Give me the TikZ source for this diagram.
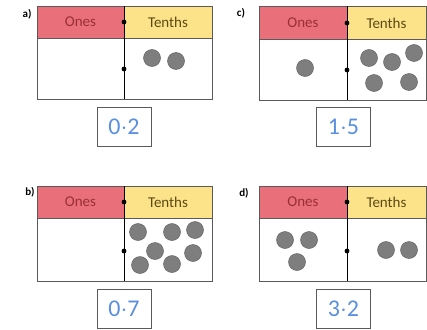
\documentclass[tikz,border=0pt]{standalone}
\usepackage{fontspec}
\setmainfont{Carlito}
\usepackage{xcolor}
\definecolor{onesred}{HTML}{E9707A}
\definecolor{tenthsyellow}{HTML}{FCE38A}
\definecolor{onestext}{HTML}{9A3036}
\definecolor{tenthstext}{HTML}{5C4A14}
\definecolor{counter}{HTML}{7E7E7E}
\definecolor{answerblue}{HTML}{5A8FE0}
\definecolor{frame}{HTML}{5A5A5A}

\begin{document}
\begin{tikzpicture}[x=1pt,y=-1pt,
  chart/.style={draw=frame, line width=0.9pt},
  head/.style={font=\fontsize{15}{16}\selectfont},
  tag/.style={font=\fontsize{11}{12}\selectfont\bfseries},
  answer/.style={draw=frame, line width=0.8pt, minimum width=54pt, minimum height=39pt,
    inner sep=0pt, text=answerblue, font=\fontsize{24}{25}\selectfont},
  counter/.style={fill=counter, draw=counter!80!black, line width=0.5pt}]

\useasboundingbox (0,0) rectangle (427,329);

% a)
\fill[onesred] (37,6) rectangle (124,38);
\fill[tenthsyellow] (124,6) rectangle (212,38);
\draw[chart] (37,6) rectangle (212,99);
\draw[chart] (37,38) -- (212,38);
\draw[line width=0.9pt] (124,6) -- (124,99);
\fill (124,22) circle (2.4) (124,69) circle (2.4);
\node[tag] (taga) at (27,14) {a)};
\node[head, text=onestext] (onesa) at (80.5,22) {Ones};
\node[head, text=tenthstext] (tenthsa) at (168,22) {Tenths};
\foreach \x/\y in {152/58,176/61} \draw[counter] (\x,\y) circle (8.5);
\node[answer] (ansa) at (124,127) {0$\cdot$2};

% c)
\fill[onesred] (259,6) rectangle (347,39);
\fill[tenthsyellow] (347,6) rectangle (426,39);
\draw[chart] (259,6) rectangle (426,100);
\draw[chart] (259,39) -- (426,39);
\draw[line width=0.9pt] (347,6) -- (347,100);
\fill (347,23) circle (2.4) (347,70) circle (2.4);
\node[tag] (tagc) at (241,13) {c)};
\node[head, text=onestext] (onesc) at (303,23) {Ones};
\node[head, text=tenthstext] (tenthsc) at (386.5,23) {Tenths};
\draw[counter] (305,68) circle (8.5);
\foreach \x/\y in {369/58,392/62,414/53,374/83,409/82} \draw[counter] (\x,\y) circle (8.5);
\node[answer] (ansc) at (343.5,127) {1$\cdot$5};

% b)
\fill[onesred] (37,186) rectangle (124,218);
\fill[tenthsyellow] (124,186) rectangle (212,218);
\draw[chart] (37,186) rectangle (212,281);
\draw[chart] (37,218) -- (212,218);
\draw[line width=0.9pt] (124,186) -- (124,281);
\fill (124,202) circle (2.4) (124,251) circle (2.4);
\node[tag] (tagb) at (30,192) {b)};
\node[head, text=onestext] (onesb) at (80.5,202) {Ones};
\node[head, text=tenthstext] (tenthsb) at (168,202) {Tenths};
\foreach \x/\y in {138/232,172/232,195/230,155/251,193/253,140/265,172/264}
  \draw[counter] (\x,\y) circle (8.5);
\node[answer] (ansb) at (124,308.5) {0$\cdot$7};

% d)
\fill[onesred] (259,186) rectangle (347,218);
\fill[tenthsyellow] (347,186) rectangle (426,218);
\draw[chart] (259,186) rectangle (426,281);
\draw[chart] (259,218) -- (426,218);
\draw[line width=0.9pt] (347,186) -- (347,281);
\fill (347,202) circle (2.4) (347,251) circle (2.4);
\node[tag] (tagd) at (244,193) {d)};
\node[head, text=onestext] (onesd) at (303,202) {Ones};
\node[head, text=tenthstext] (tenthsd) at (386.5,202) {Tenths};
\foreach \x/\y in {285/240,309/240,297/262} \draw[counter] (\x,\y) circle (8.5);
\foreach \x/\y in {386/250,409/250} \draw[counter] (\x,\y) circle (8.5);
\node[answer] (ansd) at (343.5,308.5) {3$\cdot$2};

\end{tikzpicture}
\end{document}
